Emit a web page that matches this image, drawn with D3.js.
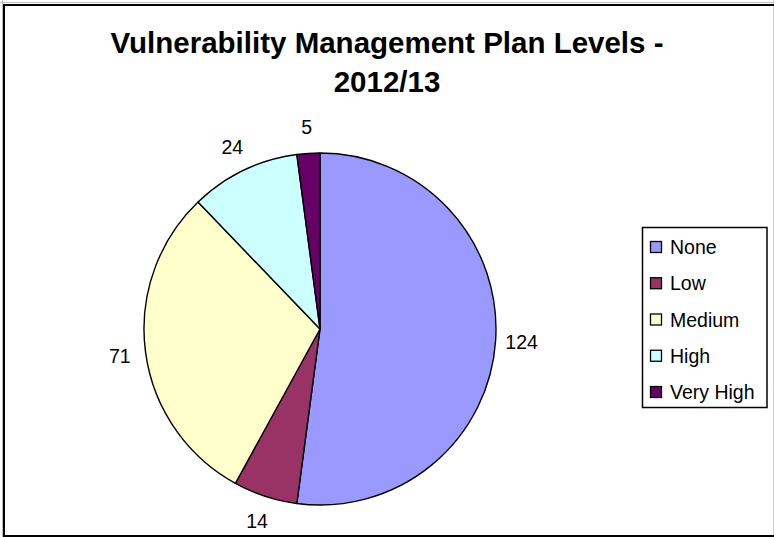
<!DOCTYPE html>
<html>
<head>
<meta charset="utf-8">
<script src="https://cdn.jsdelivr.net/npm/d3@7"></script>
<style>
  html, body { margin: 0; padding: 0; background: #fff; }
  svg { display: block; font-family: "Liberation Sans", Arial, sans-serif; }
</style>
</head>
<body>
<svg id="chart" width="774" height="537"></svg>
<script>
// Plan levels and counts for 2012/13
const categories = ["None", "Low", "Medium", "High", "Very High"];
const values = [124, 14, 71, 24, 5];
const colors = ["#9999FF", "#993366", "#FFFFCC", "#CCFFFF", "#660066"];
const titleLines = ["Vulnerability Management Plan Levels -", "2012/13"];

const W = 774, H = 537;
const svg = d3.select("#chart");

// chart frame
svg.append("line").attr("x1", 0).attr("x2", W).attr("y1", 2.5).attr("y2", 2.5)
  .attr("stroke", "#bdbdbd").attr("stroke-width", 1);
svg.append("line").attr("x1", 2.5).attr("x2", 2.5).attr("y1", 0).attr("y2", H)
  .attr("stroke", "#bdbdbd").attr("stroke-width", 1);
svg.append("line").attr("x1", 773.5).attr("x2", 773.5).attr("y1", 0).attr("y2", H)
  .attr("stroke", "#d0d0d0").attr("stroke-width", 1);
svg.append("rect").attr("x", 4).attr("y", 5).attr("width", 790).attr("height", 531)
  .attr("fill", "none").attr("stroke", "#000").attr("stroke-width", 2);

// title
const title = svg.append("text")
  .attr("text-anchor", "middle")
  .attr("font-weight", "bold")
  .attr("font-size", 29.5)
  .attr("fill", "#000");
title.selectAll("tspan").data(titleLines).join("tspan")
  .attr("x", 387)
  .attr("y", (d, i) => 53 + i * 39)
  .text(d => d);

// pie
const cx = 320, cy = 329, r = 176, labelR = 202;
const data = categories.map((c, i) => ({ category: c, value: values[i], color: colors[i] }));
const pie = d3.pie().value(d => d.value).sort(null).startAngle(0).endAngle(2 * Math.PI);
const arc = d3.arc().innerRadius(0).outerRadius(r);
const labelArc = d3.arc().innerRadius(labelR).outerRadius(labelR);
const arcs = pie(data);

const g = svg.append("g").attr("transform", `translate(${cx},${cy})`);
g.selectAll("path.slice").data(arcs).join("path")
  .attr("class", "slice")
  .attr("d", arc)
  .attr("fill", d => d.data.color)
  .attr("stroke", "#000")
  .attr("stroke-width", 1.4)
  .attr("stroke-linejoin", "round");

g.selectAll("text.val").data(arcs).join("text")
  .attr("class", "val")
  .attr("transform", d => `translate(${labelArc.centroid(d)})`)
  .attr("text-anchor", "middle")
  .attr("dominant-baseline", "central")
  .attr("font-size", 19.5)
  .attr("fill", "#000")
  .text(d => d.data.value);

// legend
const legend = svg.append("g");
legend.append("rect")
  .attr("x", 642.5).attr("y", 227.5).attr("width", 124.5).attr("height", 180)
  .attr("fill", "#fff").attr("stroke", "#000").attr("stroke-width", 1.5);
const item = legend.selectAll("g.item").data(data).join("g")
  .attr("class", "item")
  .attr("transform", (d, i) => `translate(650, ${247 + i * 36.25})`);
item.append("rect")
  .attr("x", 0.5).attr("y", -5.5).attr("width", 11).attr("height", 11)
  .attr("fill", d => d.color).attr("stroke", "#000").attr("stroke-width", 1.3);
item.append("text")
  .attr("x", 20).attr("y", 0)
  .attr("dominant-baseline", "central")
  .attr("font-size", 19.5)
  .attr("fill", "#000")
  .text(d => d.category);
</script>
</body>
</html>
